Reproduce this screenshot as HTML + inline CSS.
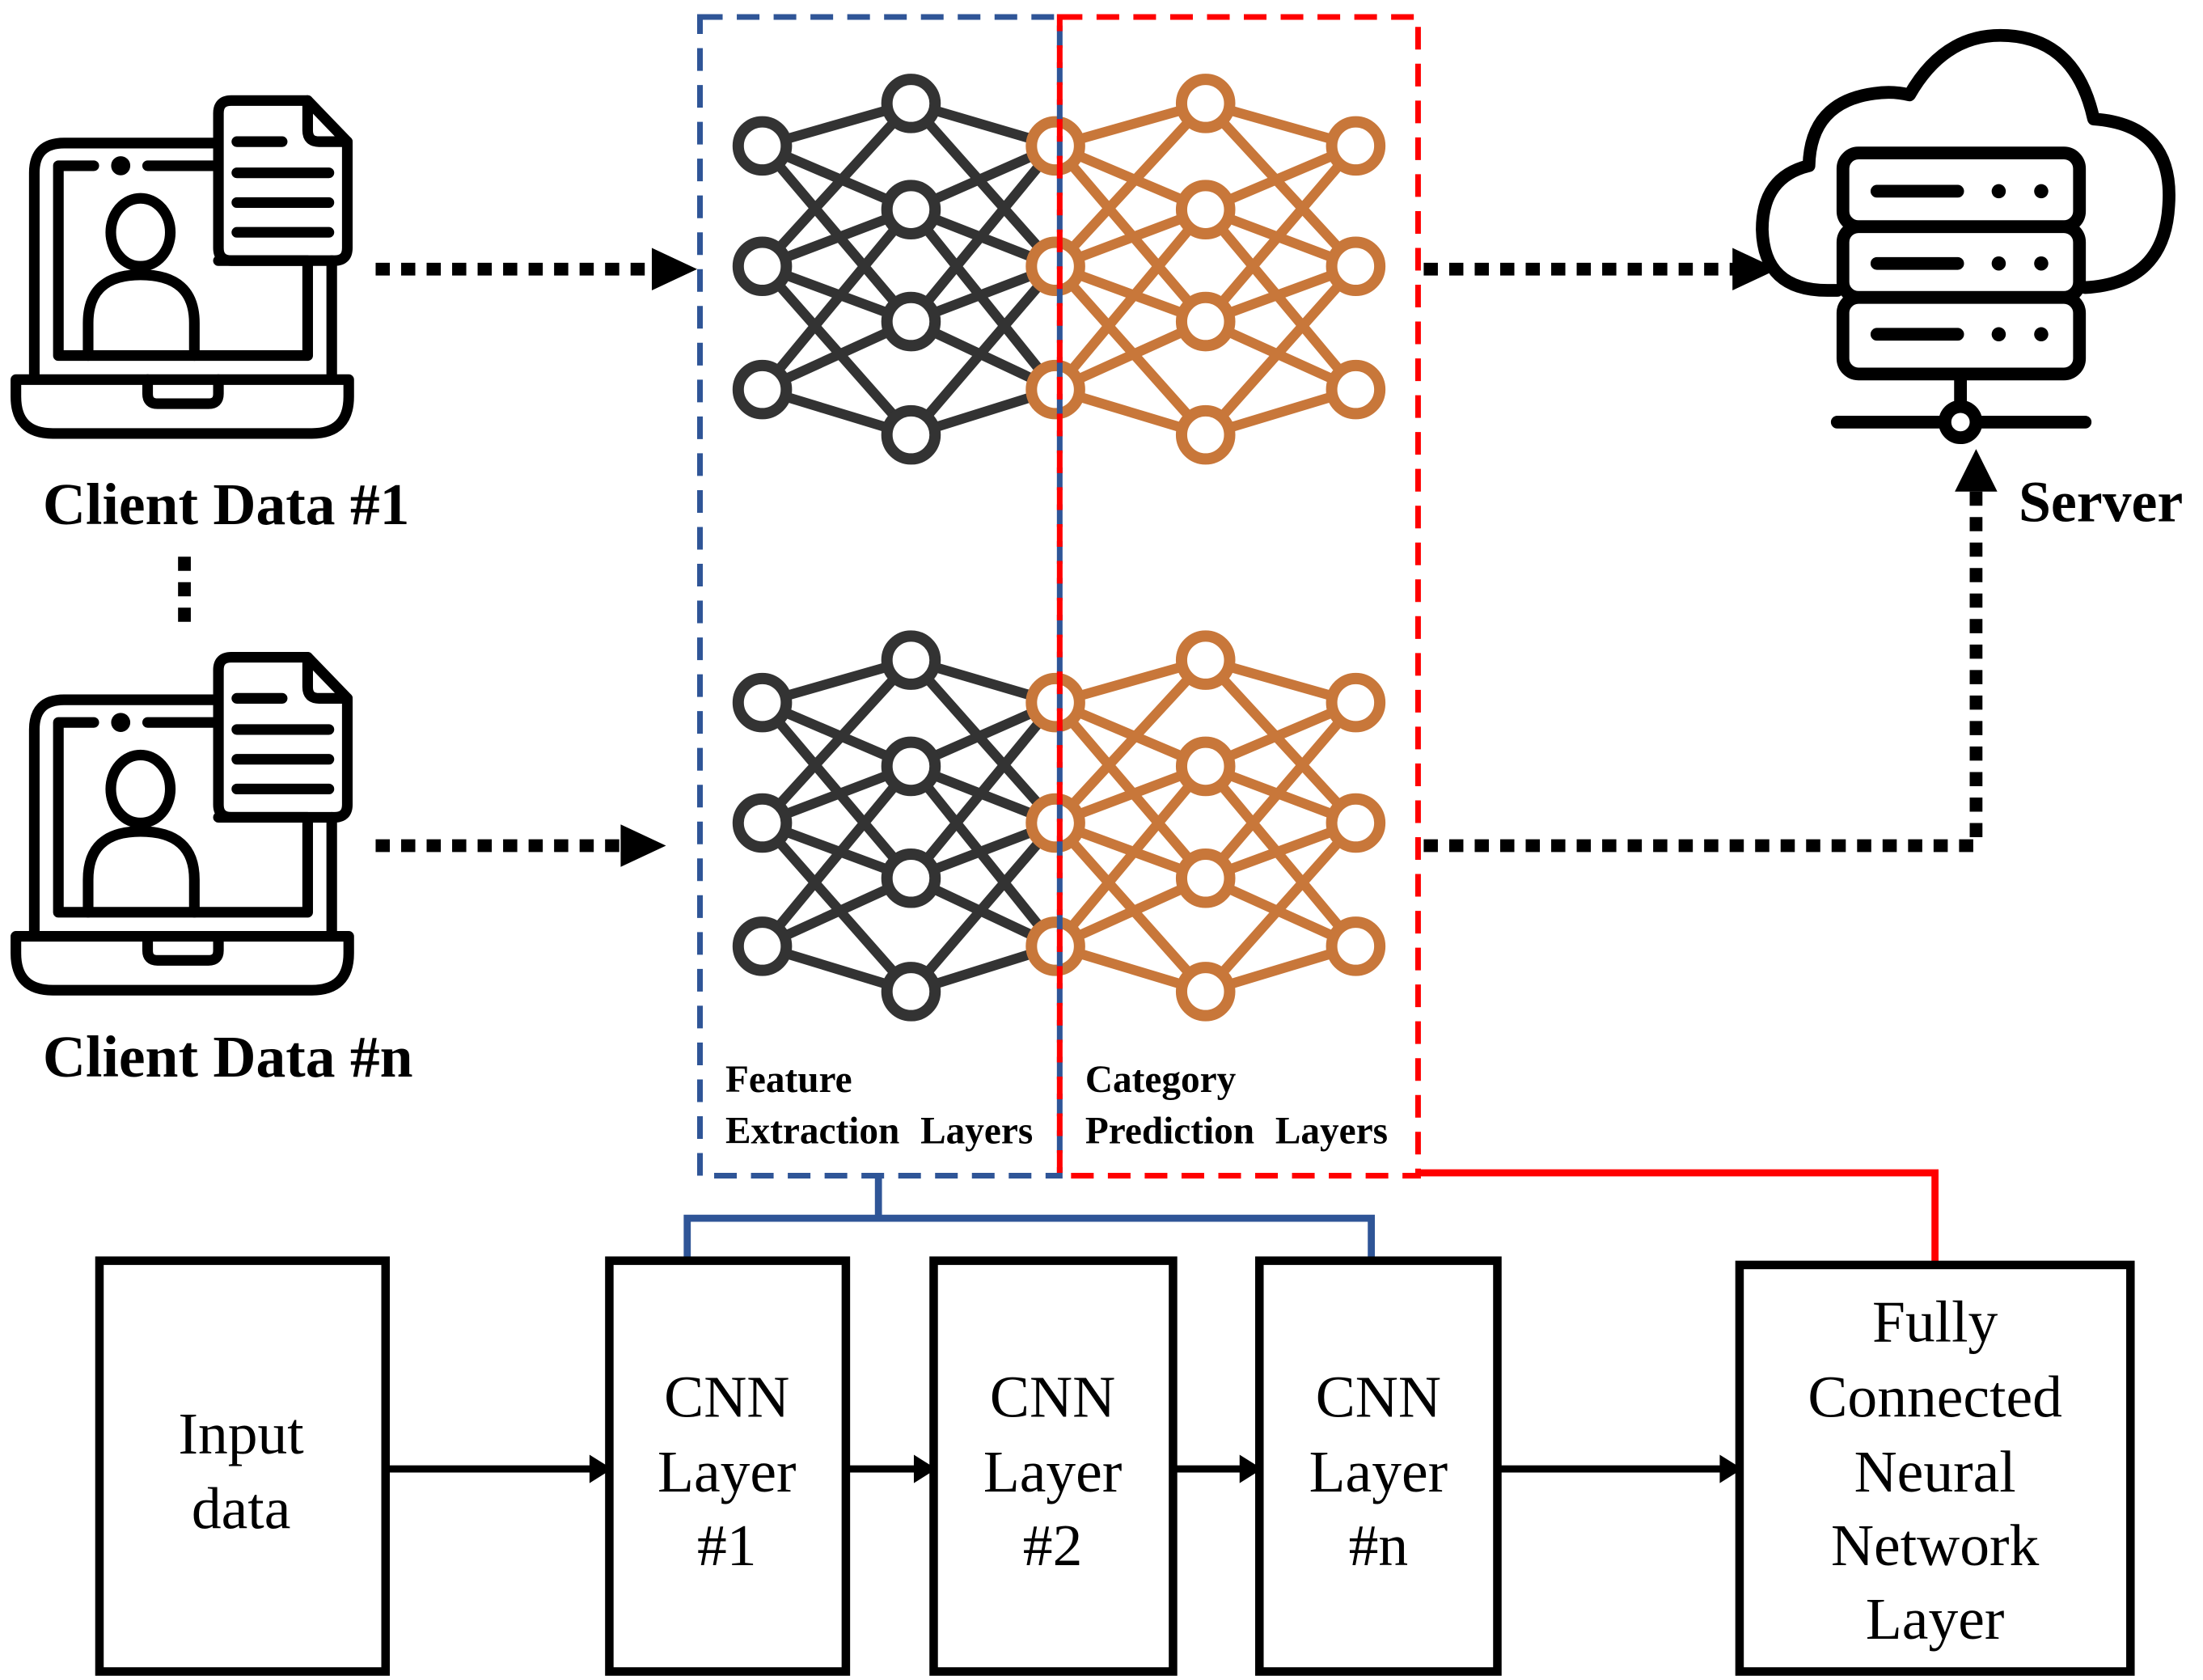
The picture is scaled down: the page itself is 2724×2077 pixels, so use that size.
<!DOCTYPE html>
<html><head><meta charset="utf-8"><style>html,body{margin:0;padding:0;background:#fff}svg{display:block}</style></head><body>
<svg width="2724" height="2077" viewBox="0 0 1555 1186" xmlns="http://www.w3.org/2000/svg">
<defs>
<g id="laptop" fill="none" stroke="#000" stroke-width="7.5" stroke-linecap="round" stroke-linejoin="round">
  <path d="M150 101 H45 Q24 101 24 122 V264"/>
  <path d="M234 184 V264"/>
  <path d="M41 251 V117 H66 M104 117 H150 M154 184 H217 V251 H41"/>
  <circle cx="85" cy="117" r="3" fill="#000"/>
  <path d="M11 268 H246 V280 Q246 306 220 306 H37 Q11 306 11 280 Z"/>
  <path d="M104 268 V278 Q104 285 111 285 H147 Q154 285 154 278 V268"/>
  <path d="M154 80 Q154 71 163 71 H217 L245 100 V175 Q245 184 236 184 H163 Q154 184 154 175 Z"/>
  <path d="M217 71 V92 Q217 100 225 100 H245"/>
  <path d="M167 100 H199 M167 122 H232 M167 143 H232 M167 164 H232"/>
  <ellipse cx="99" cy="164" rx="21" ry="24"/>
  <path d="M62 251 V228 Q62 194 99 194 Q137 194 137 228 V251"/>
</g>
<g id="net">
  <g stroke="#333" stroke-width="7" fill="none">
    <path d="M538 103 L643 73 M538 103 L643 148 M538 103 L643 227 M538 188 L643 148 M538 188 L643 227 M538 188 L643 307 M538 188 L643 73 M538 275 L643 227 M538 275 L643 307 M538 275 L643 148"/>
    <path d="M643 73 L745 103 M643 73 L745 188 M643 148 L745 103 M643 148 L745 188 M643 148 L745 275 M643 227 L745 103 M643 227 L745 188 M643 227 L745 275 M643 307 L745 275 M643 307 L745 188"/>
  </g>
  <g stroke="#C8773A" stroke-width="7" fill="none">
    <path d="M745 103 L851 73 M745 103 L851 148 M745 103 L851 227 M745 188 L851 148 M745 188 L851 227 M745 188 L851 307 M745 188 L851 73 M745 275 L851 227 M745 275 L851 307 M745 275 L851 148"/>
    <path d="M851 73 L957 103 M851 73 L957 188 M851 148 L957 103 M851 148 L957 188 M851 148 L957 275 M851 227 L957 103 M851 227 L957 188 M851 227 L957 275 M851 307 L957 275 M851 307 L957 188"/>
  </g>
  <g fill="#fff" stroke="#333" stroke-width="8">
    <circle cx="538" cy="103" r="17"/><circle cx="538" cy="188" r="17"/><circle cx="538" cy="275" r="17"/>
    <circle cx="643" cy="73" r="17"/><circle cx="643" cy="148" r="17"/><circle cx="643" cy="227" r="17"/><circle cx="643" cy="307" r="17"/>
  </g>
  <g fill="#fff" stroke="#C8773A" stroke-width="8">
    <circle cx="745" cy="103" r="17"/><circle cx="745" cy="188" r="17"/><circle cx="745" cy="275" r="17"/>
    <circle cx="851" cy="73" r="17"/><circle cx="851" cy="148" r="17"/><circle cx="851" cy="227" r="17"/><circle cx="851" cy="307" r="17"/>
    <circle cx="957" cy="103" r="17"/><circle cx="957" cy="188" r="17"/><circle cx="957" cy="275" r="17"/>
  </g>
</g>
</defs>

<use href="#laptop"/>
<use href="#laptop" transform="translate(0,393)"/>
<use href="#net"/>
<use href="#net" transform="translate(0,393)"/>

<rect x="494" y="12" width="254" height="818" fill="none" stroke="#2F5597" stroke-width="4" stroke-dasharray="16,10"/>
<rect x="748" y="12" width="253" height="818" fill="none" stroke="#FF0000" stroke-width="4" stroke-dasharray="16,10"/>

<g font-family="Liberation Serif, serif" font-weight="bold" font-size="42" fill="#000">
<text x="30" y="370">Client Data #1</text>
<text x="30" y="760">Client Data #n</text>
<text x="1425" y="368" font-size="41">Server</text>
</g>
<g font-family="Liberation Serif, serif" font-weight="bold" font-size="27" fill="#000">
<text x="512" y="771">Feature</text>
<text x="512" y="807" word-spacing="8">Extraction Layers</text>
<text x="766" y="771">Category</text>
<text x="766" y="807" word-spacing="8">Prediction Layers</text>
</g>

<g stroke="#000" stroke-width="9" fill="none" stroke-dasharray="10,8">
<path d="M130 393 V447"/>
<path d="M265 190 H462"/>
<path d="M265 597 H440"/>
<path d="M1005 190 H1225"/>
<path d="M1005 597 H1395 V345"/>
</g>
<g fill="#000">
<path d="M460 175 L492 190 L460 205 Z"/>
<path d="M438 582 L470 597 L438 612 Z"/>
<path d="M1223 175 L1255 190 L1223 205 Z"/>
<path d="M1380 347 L1395 317 L1410 347 Z"/>
</g>

<g fill="none" stroke="#000" stroke-width="9" stroke-linecap="round" stroke-linejoin="round">
<path d="M1297 205 H1290 Q1245 205 1244 162 Q1244 125 1277 117 Q1278 72 1323 66 Q1336 64 1348 67 Q1372 25 1412 25 Q1465 25 1478 84 Q1535 88 1531 145 Q1528 200 1472 203"/>
<rect x="1301" y="108" width="167" height="52" rx="11" fill="#fff"/>
<rect x="1301" y="160" width="167" height="50" rx="11" fill="#fff"/>
<rect x="1301" y="210" width="167" height="54" rx="11" fill="#fff"/>
<path d="M1325 135 H1382 M1325 186 H1382 M1325 236 H1382"/>
<path d="M1384 264 V288 M1297 298 H1374 M1394 298 H1472"/>
<circle cx="1384" cy="298" r="11" fill="#fff"/>
</g>
<g fill="#000">
<circle cx="1411" cy="135" r="5"/><circle cx="1441" cy="135" r="5"/>
<circle cx="1411" cy="186" r="5"/><circle cx="1441" cy="186" r="5"/>
<circle cx="1411" cy="236" r="5"/><circle cx="1441" cy="236" r="5"/>
</g>

<path d="M620 830 V860 M485 893 V860 H968 V893" fill="none" stroke="#2F5597" stroke-width="5"/>
<path d="M1001 828 H1366 V893" fill="none" stroke="#FF0000" stroke-width="5"/>

<g fill="#fff" stroke="#000" stroke-width="6">
<rect x="70" y="890" width="202" height="290"/>
<rect x="430" y="890" width="167" height="290"/>
<rect x="659" y="890" width="169" height="290"/>
<rect x="889" y="890" width="168" height="290"/>
<rect x="1228" y="893" width="276" height="287"/>
</g>
<g stroke="#000" stroke-width="5">
<path d="M272 1037 H418 M597 1037 H647 M828 1037 H877 M1057 1037 H1216"/>
</g>
<g fill="#000">
<path d="M416 1027 L432 1037 L416 1047 Z"/>
<path d="M645 1027 L661 1037 L645 1047 Z"/>
<path d="M875 1027 L891 1037 L875 1047 Z"/>
<path d="M1214 1027 L1230 1037 L1214 1047 Z"/>
</g>
<g font-family="Liberation Serif, serif" font-size="42" fill="#000" text-anchor="middle">
<text x="170" y="1026">Input</text><text x="170" y="1079">data</text>
<text x="513" y="1000">CNN</text><text x="513" y="1053">Layer</text><text x="513" y="1105">#1</text>
<text x="743" y="1000">CNN</text><text x="743" y="1053">Layer</text><text x="743" y="1105">#2</text>
<text x="973" y="1000">CNN</text><text x="973" y="1053">Layer</text><text x="973" y="1105">#n</text>
<text x="1366" y="947">Fully</text><text x="1366" y="1000">Connected</text><text x="1366" y="1053">Neural</text><text x="1366" y="1105">Network</text><text x="1366" y="1157">Layer</text>
</g>
</svg>
</body></html>
